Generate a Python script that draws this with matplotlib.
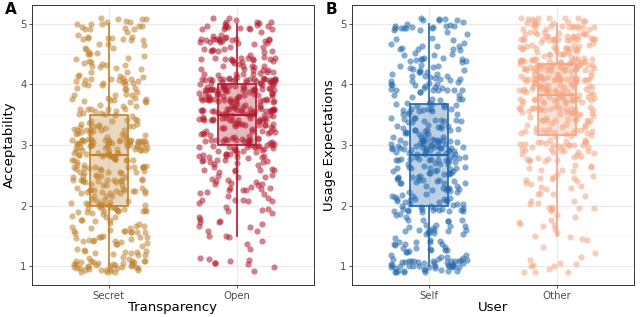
import matplotlib
matplotlib.use('Agg')
import matplotlib.pyplot as plt
import numpy as np

# response levels (mean of six items -> steps of 1/6)
levels = np.round(np.arange(6, 31) / 6, 3)

# number of respondents at each level
secret_counts = [36, 12, 12, 12, 14, 10, 25, 14, 18, 20, 20, 22, 40,
                 18, 16, 14, 12, 8, 16, 10, 10, 8, 10, 6, 17]
open_counts = [6, 3, 3, 4, 5, 6, 8, 8, 12, 10, 12, 15, 30,
               18, 22, 40, 28, 28, 44, 20, 18, 14, 16, 14, 16]
self_counts = [40, 14, 14, 12, 14, 4, 24, 14, 16, 18, 18, 22, 35,
               16, 16, 14, 14, 10, 18, 12, 12, 10, 8, 7, 18]
other_counts = [10, 2, 2, 4, 5, 4, 8, 5, 8, 6, 10, 12, 22,
                16, 16, 20, 24, 30, 30, 30, 40, 22, 24, 22, 28]

# box statistics (lower whisker, Q1, median, Q3, upper whisker)
secret_box = [1.0, 2.0, 2.83, 3.5, 5.0]
open_box = [1.5, 3.0, 3.5, 4.0, 5.0]
self_box = [1.0, 2.0, 2.83, 3.67, 5.0]
other_box = [1.5, 3.17, 3.83, 4.33, 5.0]

panel_a = dict(labels=['Secret', 'Open'], counts=[secret_counts, open_counts],
               boxes=[secret_box, open_box], colors=['#BF812D', '#B2182B'],
               xlabel='Transparency', ylabel='Acceptability', tag='A')
panel_b = dict(labels=['Self', 'Other'], counts=[self_counts, other_counts],
               boxes=[self_box, other_box], colors=['#2166AC', '#F4A582'],
               xlabel='User', ylabel='Usage Expectations', tag='B')


def jitter(n, seed):
    # deterministic hash spread in [-0.5, 0.5)
    i = np.arange(n) + seed
    return (np.sin(i * 12.9898 + seed * 78.233) * 43758.5453) % 1.0 - 0.5


def draw_panel(ax, p, k):
    ax.set_facecolor('white')
    for pos, (counts, box, col) in enumerate(zip(p['counts'], p['boxes'], p['colors']), start=1):
        y = np.repeat(levels, counts)
        n = len(y)
        xs = pos + jitter(n, 11 * k + pos) * 0.6
        ys = y + jitter(n, 37 * k + 5 * pos + 3) * 0.2
        ax.scatter(xs, ys, s=20, color=col, alpha=0.55, linewidths=0, zorder=3)
        stats = [dict(whislo=box[0], q1=box[1], med=box[2], q3=box[3], whishi=box[4], fliers=[])]
        ax.bxp(stats, positions=[pos], widths=0.3, patch_artist=True, showcaps=False,
               showfliers=False, manage_ticks=False,
               boxprops=dict(facecolor=matplotlib.colors.to_rgba(col, 0.3), edgecolor=col, linewidth=1.2),
               medianprops=dict(color=col, linewidth=1.5),
               whiskerprops=dict(color=col, linewidth=1.2), zorder=4)

    ax.set_xlim(0.4, 2.6)
    ax.set_ylim(0.69, 5.31)
    ax.set_xticks([1, 2])
    ax.set_xticklabels(p['labels'])
    ax.set_yticks([1, 2, 3, 4, 5])
    ax.set_yticks([1.5, 2.5, 3.5, 4.5], minor=True)
    ax.grid(True, which='major', color='#EBEBEB', linewidth=0.9, zorder=0)
    ax.grid(True, which='minor', axis='y', color='#F2F2F2', linewidth=0.5, zorder=0)
    ax.set_axisbelow(True)
    ax.tick_params(axis='both', which='major', length=2.5, width=0.6, color='#333333',
                   labelcolor='#4D4D4D', labelsize=7.3, pad=1.5)
    ax.tick_params(axis='y', which='minor', length=0)
    for sp in ax.spines.values():
        sp.set_color('#333333')
        sp.set_linewidth(0.7)
    ax.set_xlabel(p['xlabel'], fontsize=9.5, labelpad=0.5)
    ax.set_ylabel(p['ylabel'], fontsize=9.5, labelpad=3)


fig = plt.figure(figsize=(6.4, 3.17), dpi=100)
ax_a = fig.add_axes([32 / 640, 1 - 285 / 317, (314 - 32) / 640, (285 - 5) / 317])
ax_b = fig.add_axes([352 / 640, 1 - 285 / 317, (634 - 352) / 640, (285 - 5) / 317])
draw_panel(ax_a, panel_a, 1)
draw_panel(ax_b, panel_b, 2)

fig.text(5 / 640, 1 - 10 / 317, 'A', fontsize=11, fontweight='bold', va='center', ha='left')
fig.text(326 / 640, 1 - 10 / 317, 'B', fontsize=11, fontweight='bold', va='center', ha='left')

fig.savefig('out.png', dpi=100, facecolor='white')
